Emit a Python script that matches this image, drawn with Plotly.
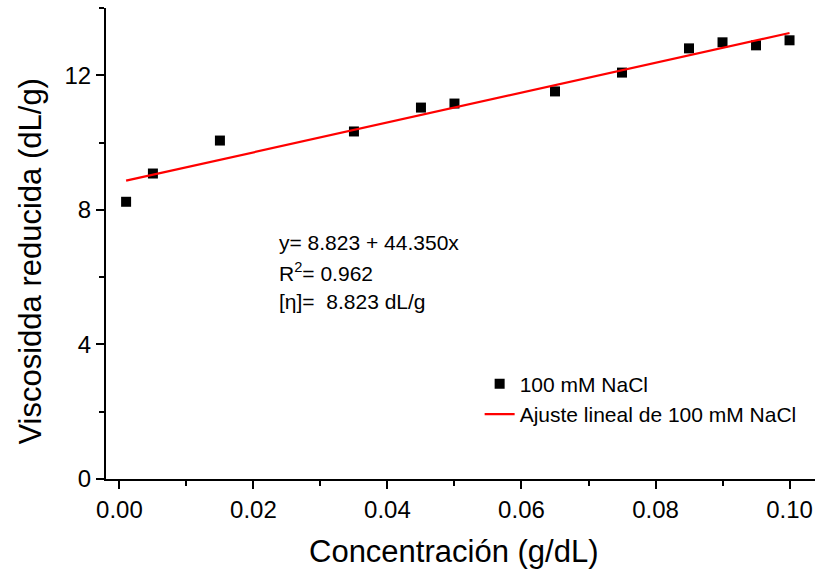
import plotly.graph_objects as go

# Reduced viscosity vs. concentration, 100 mM NaCl
conc = [0.001, 0.005, 0.015, 0.035, 0.045, 0.050, 0.065, 0.075, 0.085, 0.090, 0.095, 0.100]
visc_red = [8.24, 9.08, 10.06, 10.33, 11.04, 11.16, 11.52, 12.08, 12.80, 12.98, 12.89, 13.04]

# Linear fit parameters
intercept = 8.823
slope = 44.350
r2 = 0.962
fit_x = [conc[0], conc[-1]]
fit_y = [intercept + slope * v for v in fit_x]

FONT = "Liberation Sans, Arial, sans-serif"

fig = go.Figure()
fig.add_trace(go.Scatter(
    x=conc, y=visc_red, mode="markers", name="100 mM NaCl",
    marker=dict(symbol="square", size=10, color="black"),
))
fig.add_trace(go.Scatter(
    x=fit_x, y=fit_y, mode="lines", name="Ajuste lineal de 100 mM NaCl",
    line=dict(color="#ff0000", width=2.2),
))

axis_common = dict(
    showline=True, linecolor="black", linewidth=2,
    ticks="outside", ticklen=8, tickwidth=2, tickcolor="black",
    showgrid=False, zeroline=False,
    tickfont=dict(family=FONT, size=24, color="black"),
)

fig.update_xaxes(
    range=[-0.002, 0.1038], tickvals=[0, 0.02, 0.04, 0.06, 0.08, 0.10],
    ticktext=["0.00", "0.02", "0.04", "0.06", "0.08", "0.10"],
    minor=dict(ticks="outside", ticklen=5, tickwidth=2, tickcolor="black", dtick=0.01, tick0=0),
    **axis_common,
)
fig.update_yaxes(
    range=[0, 14], tickvals=[0, 4, 8, 12],
    minor=dict(ticks="outside", ticklen=5, tickwidth=2, tickcolor="black", dtick=2, tick0=0),
    **axis_common,
)

eq_lines = [
    f"y= {intercept:.3f} + {slope:.3f}x",
    f"R<sup>2</sup>= {r2:.3f}",
    f"[η]=  {intercept:.3f} dL/g",
]
eq_y = [7.02, 6.16, 5.27]
annotations = []
for txt, yy in zip(eq_lines, eq_y):
    annotations.append(dict(
        x=0.0235, y=yy, xref="x", yref="y", text=txt, showarrow=False,
        xanchor="left", yanchor="middle",
        font=dict(family=FONT, size=21, color="black"),
    ))

annotations.append(dict(
    x=0.491, y=-0.153, xref="paper", yref="paper", text="Concentración (g/dL)",
    showarrow=False, xanchor="center", yanchor="middle",
    font=dict(family=FONT, size=31, color="black"),
))
annotations.append(dict(
    x=-0.107, y=0.462, xref="paper", yref="paper", text="Viscosidda reducida (dL/g)",
    showarrow=False, xanchor="center", yanchor="middle", textangle=-90,
    font=dict(family=FONT, size=31, color="black"),
))

fig.update_layout(
    width=815, height=571,
    margin=dict(l=106, r=0, t=8, b=92),
    paper_bgcolor="white", plot_bgcolor="white",
    showlegend=True,
    legend=dict(
        x=0.527, y=0.245, xanchor="left", yanchor="top",
        font=dict(family=FONT, size=21, color="black"),
        bgcolor="rgba(0,0,0,0)", tracegroupgap=0,
    ),
    annotations=annotations,
)

fig.write_html("out.html")
